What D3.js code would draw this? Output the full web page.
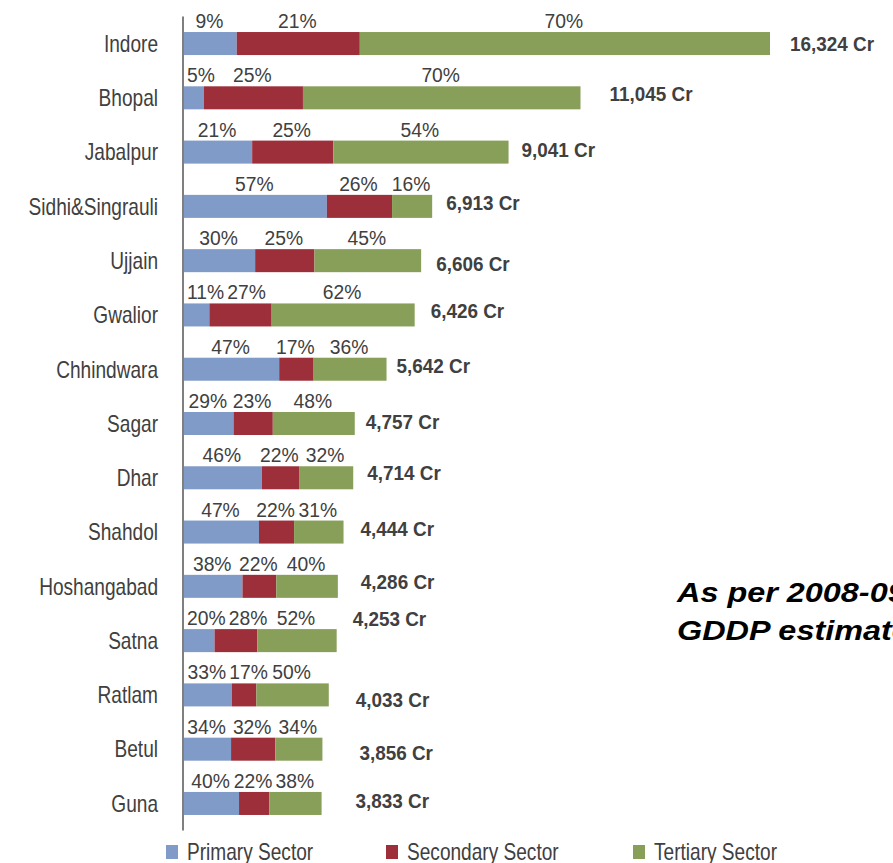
<!DOCTYPE html>
<html>
<head>
<meta charset="utf-8">
<script src="https://cdn.jsdelivr.net/npm/d3@7"></script>
<style>
    body { margin: 0; background: #fff; }
    svg { display: block; }
</style>
</head>
<body>
<div id="chart"></div>
<script>
const cities = ["Indore", "Bhopal", "Jabalpur", "Sidhi&Singrauli", "Ujjain", "Gwalior", "Chhindwara", "Sagar",
    "Dhar", "Shahdol", "Hoshangabad", "Satna", "Ratlam", "Betul", "Guna"];
const totals = [16324, 11045, 9041, 6913, 6606, 6426, 5642, 4757, 4714, 4444, 4286, 4253, 4033, 3856, 3833];
const primary = [9, 5, 21, 57, 30, 11, 47, 29, 46, 47, 38, 20, 33, 34, 40];
const secondary = [21, 25, 25, 26, 25, 27, 17, 23, 22, 22, 22, 28, 17, 32, 22];
const tertiary = [70, 70, 54, 16, 45, 62, 36, 48, 32, 31, 40, 52, 50, 34, 38];
const sectors = ["Primary Sector", "Secondary Sector", "Tertiary Sector"];
const note = ["As per 2008-09", "GDDP estimates"];

// the total labels were placed by hand in the original, so nudge them a bit
const labelNudge = [[20, 0], [29, -4], [13, -3], [14, -4], [15, 3], [16, -5], [10, -4], [11, -2],
    [14, -5], [17, -4], [23, -5], [16, -22], [27, 5], [37, 3], [34, -3]];

const width = 893, height = 863;
const colors = ["#809bc8", "#9d2f3b", "#889f5a"];
const textColor = "#404040";
const font = "'Liberation Sans', Arial, sans-serif";

const rows = cities.map((city, i) => {
    const pcts = [primary[i], secondary[i], tertiary[i]];
    const sum = d3.sum(pcts);
    const row = { city, total: totals[i], pcts };
    sectors.forEach((s, k) => row[s] = totals[i] * pcts[k] / sum);
    return row;
});

const svg = d3.select("#chart").append("svg")
    .attr("width", width)
    .attr("height", height);

svg.append("rect").attr("width", width).attr("height", height).attr("fill", "#fff");

const x = d3.scaleLinear().domain([0, 16324]).range([184, 770]);
const y = d3.scaleBand().domain(cities).range([16.4, 830.6]).paddingInner(0.576).paddingOuter(0.288);

const series = d3.stack().keys(sectors)(rows);

svg.append("g")
    .selectAll("g")
    .data(series)
    .enter().append("g")
    .attr("fill", (d, k) => colors[k])
    .selectAll("rect")
    .data(d => d)
    .enter().append("rect")
    .attr("x", d => x(d[0]))
    .attr("y", d => y(d.data.city))
    .attr("width", d => x(d[1]) - x(d[0]))
    .attr("height", y.bandwidth());

// vertical category axis line
svg.append("line")
    .attr("x1", 183).attr("x2", 183)
    .attr("y1", y.range()[0]).attr("y2", y.range()[1])
    .attr("stroke", "#7f7f7f")
    .attr("stroke-width", 2);

// category names (condensed look)
svg.append("g")
    .selectAll("text")
    .data(cities)
    .enter().append("text")
    .attr("transform", d => `translate(158,${y(d) + y.bandwidth() / 2}) scale(0.83,1)`)
    .attr("dy", "0.36em")
    .attr("text-anchor", "end")
    .style("font-family", font)
    .style("font-size", "23px")
    .style("fill", textColor)
    .text(d => d);

// percentage labels above each segment, pushed right when they collide
const pctGroup = svg.append("g")
    .style("font-family", font)
    .style("font-size", "21px")
    .style("fill", textColor);

const pctScale = 0.92;
rows.forEach((row, i) => {
    const top = y(row.city) - 4;
    let prevRight = 186 - 2;
    sectors.forEach((s, k) => {
        const seg = series[k][i];
        const t = pctGroup.append("text").text(row.pcts[k] + "%");
        const w = t.node().getComputedTextLength() * pctScale;
        let left = (x(seg[0]) + x(seg[1])) / 2 - 1 - w / 2;
        if (left < prevRight + 3) left = prevRight + 3;
        t.attr("transform", `translate(${left},${top}) scale(${pctScale},1)`);
        prevRight = left + w;
    });
});

// totals
svg.append("g")
    .selectAll("text")
    .data(rows)
    .enter().append("text")
    .attr("transform", (d, i) => `translate(${x(d.total) + labelNudge[i][0]},${y(d.city) + y.bandwidth() / 2 + labelNudge[i][1]}) scale(0.9,1)`)
    .attr("dy", "0.36em")
    .style("font-family", font)
    .style("font-size", "21px")
    .style("font-weight", "bold")
    .style("fill", textColor)
    .text(d => d3.format(",")(d.total) + " Cr");

// note on the right (runs off the edge, as in the original)
svg.append("g")
    .selectAll("text")
    .data(note)
    .enter().append("text")
    .attr("transform", (d, i) => `translate(677,${602 + i * 38}) scale(1.2,1)`)
    .style("font-family", font)
    .style("font-size", "27px")
    .style("font-weight", "bold")
    .style("font-style", "italic")
    .style("fill", "#000")
    .text(d => d);

// legend
const legendX = [166, 386, 633];
const legend = svg.append("g")
    .selectAll("g")
    .data(sectors)
    .enter().append("g")
    .attr("transform", (d, k) => `translate(${legendX[k]},845)`);

legend.append("rect")
    .attr("width", 12)
    .attr("height", 14)
    .attr("fill", (d, k) => colors[k]);

legend.append("text")
    .attr("transform", "translate(21,7) scale(0.83,1)")
    .attr("dy", "0.36em")
    .style("font-family", font)
    .style("font-size", "23px")
    .style("fill", textColor)
    .text(d => d);
</script>
</body>
</html>
